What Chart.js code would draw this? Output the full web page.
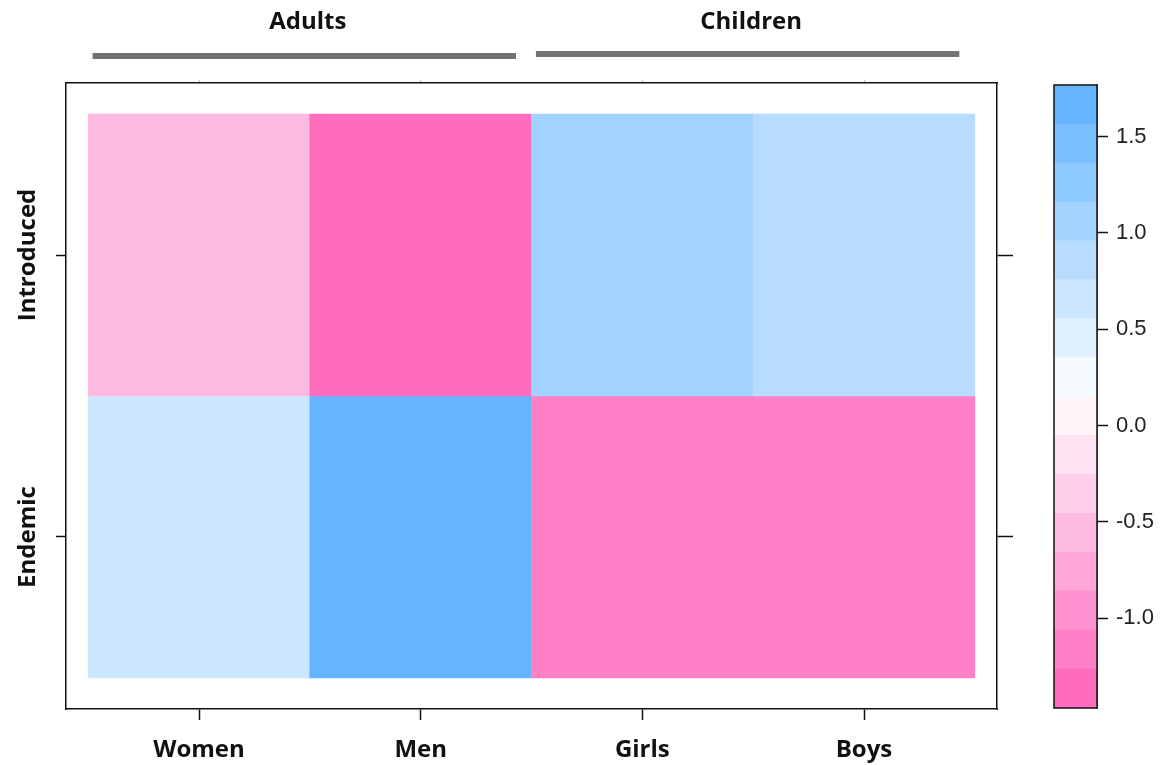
<!DOCTYPE html>
<html>
<head>
<meta charset="utf-8">
<title>Levelplot: Introduced vs Endemic</title>
<script src="https://cdn.jsdelivr.net/npm/chart.js@4/dist/chart.umd.min.js"></script>
<style>
  html, body { margin: 0; padding: 0; background: #ffffff; }
  #wrap { position: relative; width: 1173px; height: 765px; overflow: hidden; background: #ffffff; }
  #main { position: absolute; left: 0; top: 0; }
  #key { position: absolute; left: 1040px; top: 0; }
</style>
</head>
<body>
<div id="wrap">
  <canvas id="main" width="1040" height="765"></canvas>
  <canvas id="key" width="133" height="765"></canvas>
</div>
<script>
// ---- data ----
const categories = ['Women', 'Men', 'Girls', 'Boys'];
const rowLabels = ['Endemic', 'Introduced'];          // bottom to top
const introducedValues = [-0.56, -1.465, 1.06, 0.86];
const endemicValues = [0.65, 1.767, -1.16, -1.16];
const groupLabels = ['Adults', 'Children'];
const groupMembers = [[1, 2], [3, 4]];               // category positions in each group
const keyTicks = [-1.0, -0.5, 0.0, 0.5, 1.0, 1.5];

// 16-step pink -> white -> blue palette
const palette = [
  '#ff6cbe', '#ff80c7', '#ff93cf', '#ffa7d8', '#ffbae1', '#ffcee9', '#ffe2f2', '#fff5fb',
  '#f5faff', '#e0f0ff', '#cbe6ff', '#b7dcff', '#a2d2ff', '#8dc8ff', '#79beff', '#64b4ff'
];

// breaks span the data range in equal steps, one interval per palette colour
const allValues = introducedValues.concat(endemicValues);
const zMin = Math.min(...allValues);
const zMax = Math.max(...allValues);
const breaks = palette.map((_, i) => zMin + (zMax - zMin) * i / palette.length).concat([zMax]);

function colourFor(v) {
  for (let i = 0; i < palette.length; i++) {
    if (v <= breaks[i + 1] + 1e-9) return palette[i];
  }
  return palette[palette.length - 1];
}

// one floating bar per cell: x = category position, y = [row - 0.5, row + 0.5]
const rows = [endemicValues, introducedValues];
const cellData = [];
const cellColours = [];
rows.forEach((vals, r) => {
  vals.forEach((v, c) => {
    cellData.push({ x: c + 1, y: [r + 0.5, r + 1.5], v: v });
    cellColours.push(colourFor(v));
  });
});

const labelFont = { family: "'Open Sans', 'DejaVu Sans', sans-serif", size: 24, weight: 'bold' };
const fixTicks = (vals) => (scale) => { scale.ticks = vals.map(v => ({ value: v })); };
const catPositions = categories.map((_, i) => i + 1);
const rowPositions = rowLabels.map((_, i) => i + 1);

function tickGrid(len, colour) {
  return { drawOnChartArea: false, drawTicks: true, offset: false, tickLength: len, tickColor: colour, tickWidth: 1.5 };
}

function axisBase(extra) {
  return Object.assign({
    type: 'linear',
    offset: false,
    grid: tickGrid(10, '#111'),
    border: { display: true, color: '#111', width: 1.5 }
  }, extra);
}

// group strip above the panel and rotated row labels
const decorations = {
  id: 'decorations',
  afterDraw(chart) {
    const ctx = chart.ctx;
    const xs = chart.scales.x;
    const ys = chart.scales.y;
    ctx.save();
    ctx.font = `bold 24px 'Open Sans', 'DejaVu Sans', sans-serif`;
    ctx.textAlign = 'center';
    ctx.textBaseline = 'middle';
    const barY = [56, 54];
    groupLabels.forEach((g, i) => {
      const first = groupMembers[i][0];
      const last = groupMembers[i][groupMembers[i].length - 1];
      const mid = (first + last) / 2;
      ctx.fillStyle = '#111';
      ctx.fillText(g, xs.getPixelForValue(mid) - 2, 22);
      const x0 = xs.getPixelForValue(first - 0.48);
      const x1 = xs.getPixelForValue(last + 0.43);
      ctx.fillStyle = '#737373';
      ctx.fillRect(x0, barY[i] - 3, x1 - x0, 6);
    });
    ctx.fillStyle = '#111';
    rowLabels.forEach((lab, i) => {
      const py = ys.getPixelForValue(i + 1);
      ctx.save();
      ctx.translate(28, py);
      ctx.rotate(-Math.PI / 2);
      ctx.fillText(lab, 0, 0);
      ctx.restore();
    });
    ctx.restore();
  }
};

new Chart(document.getElementById('main'), {
  type: 'bar',
  data: {
    datasets: [{
      data: cellData,
      backgroundColor: cellColours,
      borderWidth: 0,
      barPercentage: 1.0,
      categoryPercentage: 1.0
    }]
  },
  options: {
    responsive: false,
    animation: false,
    devicePixelRatio: 1,
    layout: { padding: 0 },
    plugins: { legend: { display: false }, tooltip: { enabled: false } },
    scales: {
      x: axisBase({
        position: 'bottom', min: 0.4, max: 4.6,
        afterBuildTicks: fixTicks(catPositions),
        afterFit: (s) => { s.height = 56; },
        grid: tickGrid(11, '#111'),
        ticks: { autoSkip: false, maxRotation: 0, padding: 16, color: '#111', font: labelFont,
                 callback: (v) => categories[Math.round(v) - 1] }
      }),
      x2: axisBase({
        position: 'top', min: 0.4, max: 4.6,
        afterBuildTicks: fixTicks(catPositions),
        afterFit: (s) => { s.height = 83; },
        grid: tickGrid(3, '#c8c8c8'),
        ticks: { display: false }
      }),
      y: axisBase({
        position: 'left', min: 0.39, max: 2.61,
        afterBuildTicks: fixTicks(rowPositions),
        afterFit: (s) => { s.width = 66; },
        ticks: { display: false }
      }),
      y2: axisBase({
        position: 'right', min: 0.39, max: 2.61,
        afterBuildTicks: fixTicks(rowPositions),
        afterFit: (s) => { s.width = 43; },
        grid: tickGrid(16, '#111'),
        ticks: { display: false }
      })
    }
  },
  plugins: [decorations]
});

// ---- colour key ----
const keyFrame = {
  id: 'keyFrame',
  afterDraw(chart) {
    const a = chart.chartArea;
    const ctx = chart.ctx;
    ctx.save();
    ctx.strokeStyle = '#111';
    ctx.lineWidth = 1.5;
    ctx.strokeRect(a.left, a.top, a.right - a.left, a.bottom - a.top);
    ctx.restore();
  }
};

new Chart(document.getElementById('key'), {
  type: 'bar',
  data: {
    labels: [''],
    datasets: palette.map((col, i) => ({
      data: [[breaks[i], breaks[i + 1]]],
      backgroundColor: col,
      borderWidth: 0,
      grouped: false,
      barPercentage: 1.0,
      categoryPercentage: 1.0
    }))
  },
  options: {
    responsive: false,
    animation: false,
    devicePixelRatio: 1,
    layout: { padding: { left: 14, top: 85, bottom: 57, right: 0 } },
    plugins: { legend: { display: false }, tooltip: { enabled: false } },
    scales: {
      x: { type: 'category', display: false, offset: true },
      y: {
        type: 'linear', position: 'right', min: zMin, max: zMax,
        afterBuildTicks: fixTicks(keyTicks),
        afterFit: (s) => { s.width = 76; },
        grid: tickGrid(11, '#111'),
        border: { display: true, color: '#111', width: 1.5 },
        ticks: { padding: 8, color: '#222', font: { family: "'Liberation Sans', Arial, sans-serif", size: 22 },
                 callback: (v) => Number(v).toFixed(1) }
      }
    }
  },
  plugins: [keyFrame]
});
</script>
</body>
</html>
